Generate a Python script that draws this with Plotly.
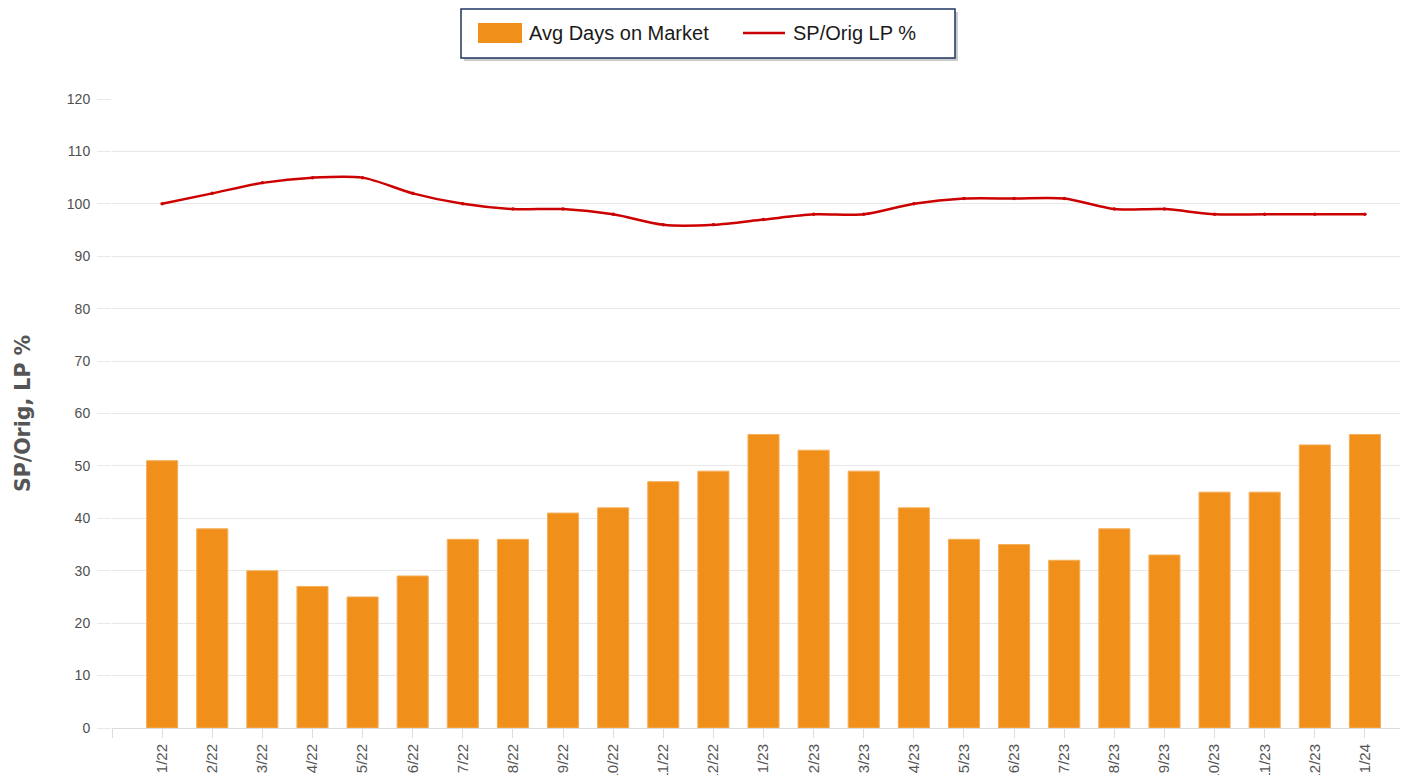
import plotly.graph_objects as go

months = ["1/22", "2/22", "3/22", "4/22", "5/22", "6/22", "7/22", "8/22", "9/22", "10/22",
          "11/22", "12/22", "1/23", "2/23", "3/23", "4/23", "5/23", "6/23", "7/23", "8/23",
          "9/23", "10/23", "11/23", "12/23", "1/24"]
avg_days_on_market = [51, 38, 30, 27, 25, 29, 36, 36, 41, 42, 47, 49, 56, 53, 49, 42, 36, 35,
                      32, 38, 33, 45, 45, 54, 56]
sp_orig_lp_pct = [100, 102, 104, 105, 105, 102, 100, 99, 99, 98, 96, 96, 97, 98, 98, 100, 101,
                  101, 101, 99, 99, 98, 98, 98, 98]
y_ticks = [0, 10, 20, 30, 40, 50, 60, 70, 80, 90, 100, 110, 120]
series_names = ["Avg Days on Market", "SP/Orig LP %"]

BAR_COLOR = "#F0901A"
LINE_COLOR = "#CC0000"

x_idx = list(range(len(months)))

fig = go.Figure()
fig.add_trace(go.Bar(
    x=x_idx, y=avg_days_on_market, name=series_names[0],
    marker=dict(color=BAR_COLOR, line=dict(width=1, color="#F5AE5A")), width=0.62,
    showlegend=False,
))
fig.add_trace(go.Scatter(
    x=x_idx, y=sp_orig_lp_pct, name=series_names[1], mode="lines+markers",
    line=dict(color=LINE_COLOR, width=2.5, shape="spline", smoothing=0.8),
    marker=dict(color=LINE_COLOR, size=3.5),
    showlegend=False,
))

# figure sized to sit inside the page's default 8px body margin
W, H = 1400, 767
L, R, T, B = 104, 8, 91, 47
pw, ph = W - L - R, H - T - B


def px_x(x):
    return (x - L) / pw


def px_y(y):
    return 1 + (T - y) / ph


legend_font = dict(family="Liberation Sans, Arial, sans-serif", size=20, color="#1a1a1a")
tick_family = "Liberation Sans, Arial, sans-serif"

shapes = [
    # legend shadow and frame
    dict(type="rect", xref="paper", yref="paper",
         x0=px_x(456), x1=px_x(950), y0=px_y(53), y1=px_y(4),
         fillcolor="#a0a0a0", line=dict(width=0), layer="below", opacity=0.55),
    dict(type="rect", xref="paper", yref="paper",
         x0=px_x(453), x1=px_x(947), y0=px_y(50), y1=px_y(1),
         fillcolor="white", line=dict(color="#1F3460", width=1.5), layer="below"),
    # legend swatches
    dict(type="rect", xref="paper", yref="paper",
         x0=px_x(470), x1=px_x(514), y0=px_y(35), y1=px_y(15),
         fillcolor=BAR_COLOR, line=dict(width=0)),
    dict(type="line", xref="paper", yref="paper",
         x0=px_x(735), x1=px_x(777), y0=px_y(25), y1=px_y(25),
         line=dict(color=LINE_COLOR, width=2.5)),
]

annotations = [
    dict(text=series_names[0], xref="paper", yref="paper", x=px_x(519), y=px_y(25),
         xanchor="left", yanchor="middle", showarrow=False, font=legend_font),
    dict(text=series_names[1], xref="paper", yref="paper", x=px_x(783), y=px_y(25),
         xanchor="left", yanchor="middle", showarrow=False, font=legend_font),
]

fig.update_layout(
    width=W, height=H,
    margin=dict(l=L, r=R, t=T, b=B, autoexpand=False),
    paper_bgcolor="white", plot_bgcolor="white",
    template="none",
    shapes=shapes,
    annotations=annotations,
    showlegend=False,
    xaxis=dict(
        range=[-1, 24.7], tickmode="array", tickvals=[-1] + x_idx, ticktext=[""] + months,
        tickangle=-90, ticks="outside", ticklen=9, tickcolor="#dcdcdc", tickwidth=1,
        showline=True, linecolor="#dcdcdc", linewidth=1, showgrid=False, zeroline=False,
        tickfont=dict(family=tick_family, size=15, color="#555555"),
        automargin=False,
    ),
    yaxis=dict(
        range=[0, 120], tickmode="array", tickvals=y_ticks,
        ticks="outside", ticklen=14, tickcolor="#e8e8e8", tickwidth=1,
        showgrid=True, gridcolor="#e8e8e8", gridwidth=1, zeroline=False, showline=False,
        tickfont=dict(family=tick_family, size=14, color="#505050"),
        ticklabelstandoff=4,
        title=dict(text="<b>SP/Orig, LP %</b>", standoff=30,
                   font=dict(family="DejaVu Sans, sans-serif", size=20.5, color="#555555")),
        automargin=False,
    ),
)

fig.write_html("out.html")
